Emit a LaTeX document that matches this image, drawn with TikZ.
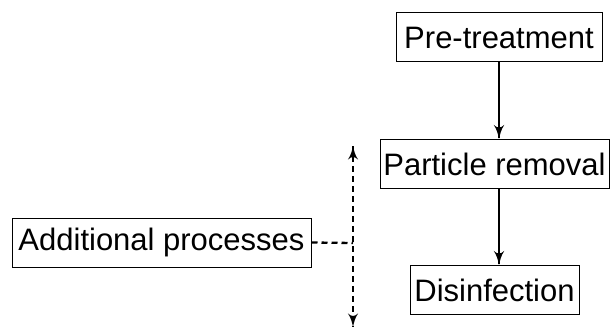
\documentclass[tikz,border=0pt]{standalone}
\usepackage{fontspec}
\setmainfont{Liberation Sans}
\usepackage{tikz}
\usetikzlibrary{arrows}
\usetikzlibrary{decorations.markings}
\tikzset{stage/.style = {draw, line width=1pt, inner sep=0pt, minimum height=49pt,
                         font=\fontsize{31}{36}\selectfont},
         flow/.style = {line width=2pt, shorten >=1pt,
                        decoration={markings,
                                    mark=at position 1 with {\arrow[scale=1.6]{latex'}}},
                        postaction={decorate}},
         extra/.style = {line width=2.3pt, dash pattern=on 6pt off 4pt},
         both/.style = {decoration={markings,
                                    mark=at position 0 with {\arrowreversed[scale=1.4]{latex'}},
                                    mark=at position 1 with {\arrow[scale=1.4]{latex'}}},
                        postaction={decorate}}}

\begin{document}
\begin{tikzpicture}[x=1pt, y=-1pt]
    \useasboundingbox (0, 0) rectangle (610, 329);

    \node [stage, minimum width=206pt] (pre) at (499, 37.5) {Pre-treatment};
    \node [stage, minimum width=229pt] (part) at (494.5, 164) {Particle removal};
    \node [stage, minimum width=169pt] (dis) at (494.5, 290) {Disinfection};
    \node [stage, minimum width=299pt] (add) at (161.5, 242.5) {Additional processes};

    \draw [flow] (pre.south -| 499, 0) -- (part.north -| 499, 0);
    \draw [flow] (part.south -| 499, 0) -- (dis.north -| 499, 0);

    \coordinate (up) at (353, 146);
    \coordinate (down) at (353, 327);
    \coordinate (join) at (353, 243);
    \draw [extra] (add.east) -- (join);
    \draw [extra, both] (up) -- (down);
  \end{tikzpicture}
\end{document}
